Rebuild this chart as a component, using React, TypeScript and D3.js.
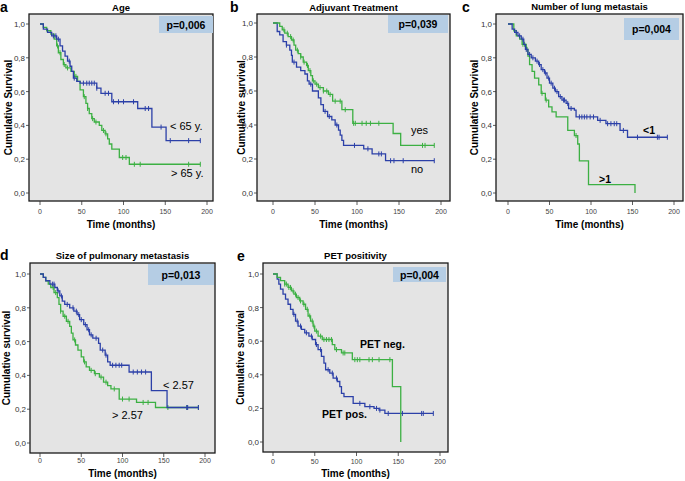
import React from "react";
import * as d3 from "d3";

type Step = [number, number];

// ---- data ----
const xTicks = [0, 50, 100, 150, 200];
const yTicks = [0, 0.2, 0.4, 0.6, 0.8, 1.0];

// a: Age
const ageUnder65: Step[] = [[0, 1], [4, 0.97], [9, 0.95], [14, 0.93], [20, 0.91], [24, 0.87], [27, 0.84], [30, 0.81], [33, 0.78], [36, 0.75], [38, 0.72], [40, 0.68], [44, 0.66], [48, 0.65], [68, 0.62], [73, 0.59], [86, 0.54], [117, 0.5], [134, 0.39], [151, 0.31]];
const ageUnder65Censor = [16, 19, 22, 35, 41, 52, 56, 59, 62, 65, 68, 78, 82, 88, 94, 100, 112, 126, 130, 145, 156, 178, 192];
const ageOver65: Step[] = [[0, 1], [4, 0.98], [8, 0.96], [13, 0.94], [17, 0.91], [20, 0.87], [22, 0.83], [25, 0.79], [28, 0.76], [31, 0.74], [37, 0.72], [41, 0.69], [45, 0.66], [48, 0.61], [52, 0.57], [55, 0.53], [57, 0.5], [59, 0.47], [62, 0.44], [65, 0.42], [71, 0.4], [74, 0.37], [78, 0.35], [81, 0.32], [83, 0.29], [86, 0.26], [95, 0.21], [107, 0.17]];
const ageOver65Censor = [21, 24, 29, 33, 43, 53, 57, 63, 67, 76, 79, 99, 103, 113, 120, 178, 192];

// b: Adjuvant treatment
const adjYes: Step[] = [[0, 1], [8, 0.98], [11, 0.96], [14, 0.94], [18, 0.92], [22, 0.9], [25, 0.87], [27, 0.84], [30, 0.82], [33, 0.8], [36, 0.77], [40, 0.75], [42, 0.72], [45, 0.69], [47, 0.66], [50, 0.64], [54, 0.62], [60, 0.6], [66, 0.58], [71, 0.54], [82, 0.49], [95, 0.41], [143, 0.35], [152, 0.28]];
const adjYesCensor = [13, 17, 21, 24, 29, 33, 37, 41, 44, 48, 52, 56, 60, 64, 68, 74, 80, 86, 96, 98, 106, 111, 116, 126, 178, 181, 192];
const adjNo: Step[] = [[0, 1], [5, 0.95], [8, 0.93], [12, 0.89], [16, 0.87], [20, 0.84], [22, 0.81], [23, 0.77], [28, 0.74], [33, 0.72], [38, 0.7], [41, 0.66], [43, 0.64], [47, 0.6], [54, 0.56], [57, 0.52], [60, 0.48], [65, 0.45], [70, 0.43], [74, 0.4], [78, 0.37], [80, 0.34], [82, 0.31], [84, 0.28], [108, 0.26], [118, 0.23], [134, 0.19]];
const adjNoCensor = [16, 25, 45, 62, 67, 76, 97, 113, 126, 129, 140, 144, 155, 192];

// c: Number of lung metastasis
const metLess1: Step[] = [[0, 1], [5, 0.97], [8, 0.95], [12, 0.93], [16, 0.91], [19, 0.88], [21, 0.85], [24, 0.82], [28, 0.8], [33, 0.78], [37, 0.76], [40, 0.73], [44, 0.71], [47, 0.68], [50, 0.65], [54, 0.62], [57, 0.6], [61, 0.57], [65, 0.55], [70, 0.53], [73, 0.5], [80, 0.49], [82, 0.45], [108, 0.43], [118, 0.41], [135, 0.37], [144, 0.33]];
const metLess1Censor = [10, 14, 18, 22, 26, 30, 35, 38, 42, 45, 49, 52, 56, 59, 63, 67, 68, 72, 76, 86, 89, 92, 95, 99, 103, 111, 120, 124, 128, 131, 139, 156, 180, 182, 192];
const metMore1: Step[] = [[0, 1], [7, 0.96], [10, 0.93], [14, 0.91], [17, 0.88], [22, 0.85], [24, 0.81], [26, 0.76], [29, 0.72], [32, 0.68], [37, 0.64], [40, 0.59], [45, 0.55], [49, 0.51], [53, 0.48], [58, 0.45], [72, 0.37], [80, 0.34], [84, 0.29], [86, 0.19], [97, 0.05], [153, 0]];
const metMore1Censor = [18, 20, 23, 41, 46, 82];

// d: Size of pulmonary metastasis
const sizeUnder: Step[] = [[0, 1], [4, 0.98], [7, 0.96], [12, 0.94], [18, 0.92], [21, 0.9], [24, 0.87], [27, 0.84], [30, 0.82], [36, 0.8], [41, 0.78], [45, 0.76], [48, 0.73], [53, 0.7], [57, 0.67], [60, 0.64], [64, 0.62], [71, 0.59], [73, 0.55], [79, 0.52], [82, 0.48], [85, 0.46], [108, 0.42], [135, 0.31], [154, 0.21]];
const sizeUnderCensor = [15, 17, 22, 26, 33, 40, 44, 47, 50, 55, 59, 62, 68, 76, 80, 88, 92, 96, 99, 113, 118, 123, 128, 178, 179, 192];
const sizeOver: Step[] = [[0, 1], [4, 0.98], [7, 0.96], [10, 0.94], [13, 0.92], [17, 0.89], [21, 0.86], [23, 0.82], [25, 0.78], [28, 0.75], [32, 0.72], [36, 0.69], [38, 0.65], [40, 0.61], [43, 0.58], [46, 0.55], [50, 0.51], [53, 0.48], [56, 0.45], [60, 0.43], [66, 0.41], [72, 0.39], [77, 0.36], [82, 0.34], [86, 0.32], [96, 0.26], [117, 0.24], [140, 0.21]];
const sizeOverCensor = [16, 19, 25, 30, 34, 42, 54, 62, 67, 74, 80, 90, 100, 108, 125, 131, 155, 178, 192];

// e: PET positivity
const petNeg: Step[] = [[0, 1], [5, 0.98], [9, 0.96], [14, 0.94], [18, 0.92], [22, 0.9], [25, 0.88], [28, 0.86], [32, 0.84], [36, 0.82], [39, 0.79], [42, 0.75], [45, 0.72], [48, 0.69], [50, 0.66], [54, 0.63], [59, 0.61], [71, 0.58], [74, 0.55], [82, 0.53], [95, 0.49], [143, 0.33], [153, 0]];
const petNegCensor = [14, 16, 19, 21, 24, 27, 30, 33, 37, 41, 44, 47, 49, 52, 57, 61, 64, 67, 70, 76, 84, 86, 98, 101, 104, 115, 119, 127, 140];
const petPos: Step[] = [[0, 1], [5, 0.97], [7, 0.94], [9, 0.91], [12, 0.88], [15, 0.85], [18, 0.82], [21, 0.79], [24, 0.76], [27, 0.72], [30, 0.69], [34, 0.67], [38, 0.65], [43, 0.63], [47, 0.61], [51, 0.58], [54, 0.55], [58, 0.51], [61, 0.47], [63, 0.43], [68, 0.41], [72, 0.38], [77, 0.36], [80, 0.33], [82, 0.29], [85, 0.27], [96, 0.23], [110, 0.21], [121, 0.2], [127, 0.19], [134, 0.17]];
const petPosCensor = [25, 29, 33, 40, 46, 52, 57, 66, 71, 76, 104, 116, 124, 128, 138, 155, 178, 180, 192];

const BLUE = "#2c40a8";
const GREEN = "#3cb043";
const FONT = "'Liberation Sans', Arial, sans-serif";

interface Curve { steps: Step[]; censor: number[]; end: number; color: string }
interface Label { text: string; x: number; y: number; bold?: boolean }
interface Panel {
  letter: string; title: string; yTitle: string; p: string;
  frame: [number, number, number, number]; // left, top, right, bottom
  xr: [number, number]; yr: [number, number];
  pBox: [number, number, number, number];
  letterPos: [number, number]; titleY: number; yTitleX: number; xTitleY: number; xTickY: number;
  curves: Curve[]; labels: Label[];
}

const panels: Panel[] = [
  {
    letter: "a", title: "Age", yTitle: "Cumulative Survival", p: "p=0,006",
    frame: [29, 14, 213, 201], xr: [40, 207], yr: [193, 24], pBox: [159, 16, 213, 33],
    letterPos: [0, 11.5], titleY: 11, yTitleX: 11.5, xTitleY: 228, xTickY: 214,
    curves: [
      { steps: ageOver65, censor: ageOver65Censor, end: 192, color: GREEN },
      { steps: ageUnder65, censor: ageUnder65Censor, end: 192, color: BLUE },
    ],
    labels: [{ text: "< 65 y.", x: 170, y: 130 }, { text: "> 65 y.", x: 171, y: 177 }],
  },
  {
    letter: "b", title: "Adjuvant Treatment", yTitle: "Cumulative survival", p: "p=0,039",
    frame: [257, 14, 450, 201], xr: [273, 441], yr: [193, 23], pBox: [388, 15, 448, 33],
    letterPos: [230, 11.5], titleY: 11, yTitleX: 245, xTitleY: 228, xTickY: 214,
    curves: [
      { steps: adjNo, censor: adjNoCensor, end: 192, color: BLUE },
      { steps: adjYes, censor: adjYesCensor, end: 192, color: GREEN },
    ],
    labels: [{ text: "yes", x: 411, y: 134 }, { text: "no", x: 411, y: 173 }],
  },
  {
    letter: "c", title: "Number of lung metastais", yTitle: "Cumulative Survival", p: "p=0,004",
    frame: [496, 14, 683, 201], xr: [508, 674], yr: [193, 24], pBox: [624, 18, 679, 40],
    letterPos: [462, 11.5], titleY: 10, yTitleX: 478, xTitleY: 228, xTickY: 214,
    curves: [
      { steps: metMore1, censor: metMore1Censor, end: 153, color: GREEN },
      { steps: metLess1, censor: metLess1Censor, end: 192, color: BLUE },
    ],
    labels: [{ text: "<1", x: 643, y: 134, bold: true }, { text: ">1", x: 599, y: 183, bold: true }],
  },
  {
    letter: "d", title: "Size of pulmonary metastasis", yTitle: "Cumulative survival", p: "p=0,013",
    frame: [30, 263, 215, 453], xr: [40, 205], yr: [443, 274], pBox: [148, 264, 214, 285],
    letterPos: [0, 260], titleY: 259, yTitleX: 10, xTitleY: 477, xTickY: 463,
    curves: [
      { steps: sizeOver, censor: sizeOverCensor, end: 192, color: GREEN },
      { steps: sizeUnder, censor: sizeUnderCensor, end: 192, color: BLUE },
    ],
    labels: [{ text: "< 2.57", x: 163, y: 389 }, { text: "> 2.57", x: 112, y: 419 }],
  },
  {
    letter: "e", title: "PET positivity", yTitle: "Cumulative survival", p: "p=0,004",
    frame: [263, 263, 448, 452], xr: [273, 440], yr: [442, 274], pBox: [393, 267, 446, 282],
    letterPos: [237, 261], titleY: 259, yTitleX: 244, xTitleY: 477, xTickY: 464,
    curves: [
      { steps: petPos, censor: petPosCensor, end: 192, color: BLUE },
      { steps: petNeg, censor: petNegCensor, end: 153, color: GREEN },
    ],
    labels: [{ text: "PET neg.", x: 360, y: 348, bold: true }, { text: "PET pos.", x: 322, y: 418, bold: true }],
  },
];

const fmt = (v: number) => d3.format(".1f")(v).replace(".", ",");

function survAt(steps: Step[], t: number) {
  let s = 1;
  for (const [st, sv] of steps) if (st <= t) s = sv;
  return s;
}

function KMPanel({ pn }: { pn: Panel }) {
  const x = d3.scaleLinear().domain([0, 200]).range(pn.xr);
  const y = d3.scaleLinear().domain([0, 1]).range(pn.yr);
  const line = d3.line<Step>().x((d) => x(d[0])).y((d) => y(d[1])).curve(d3.curveStepAfter);
  const [l, t, r, b] = pn.frame;
  return (
    <g fontFamily={FONT}>
      <rect x={l} y={t} width={r - l} height={b - t} fill="#e4e4e4" stroke="#1a1a1a" strokeWidth={1.3} />
      <text x={pn.letterPos[0]} y={pn.letterPos[1]} fontSize={14} fontWeight="bold">{pn.letter}</text>
      <text x={(l + r) / 2} y={pn.titleY} fontSize={9.5} fontWeight="bold" textAnchor="middle">{pn.title}</text>
      <rect x={pn.pBox[0]} y={pn.pBox[1]} width={pn.pBox[2] - pn.pBox[0]} height={pn.pBox[3] - pn.pBox[1]} fill="#b5cde4" />
      <text x={(pn.pBox[0] + pn.pBox[2]) / 2} y={(pn.pBox[1] + pn.pBox[3]) / 2 + 4} fontSize={10.5} fontWeight="bold" textAnchor="middle">{pn.p}</text>
      {yTicks.map((v) => (
        <g key={"y" + v}>
          <line x1={l - 3} x2={l} y1={y(v)} y2={y(v)} stroke="#333" strokeWidth={0.8} />
          <text x={l - 4} y={y(v) + 3} fontSize={8} textAnchor="end" fill="#333">{fmt(v)}</text>
        </g>
      ))}
      {xTicks.map((v) => (
        <g key={"x" + v}>
          <line x1={x(v)} x2={x(v)} y1={b} y2={b + 4} stroke="#333" strokeWidth={0.8} />
          <text x={x(v)} y={pn.xTickY} fontSize={7} textAnchor="middle" fill="#444">{v}</text>
        </g>
      ))}
      <text transform={`translate(${pn.yTitleX},${(t + b) / 2}) rotate(-90)`} fontSize={10} fontWeight="bold" textAnchor="middle">{pn.yTitle}</text>
      <text x={(l + r) / 2} y={pn.xTitleY} fontSize={10} fontWeight="bold" textAnchor="middle">Time (months)</text>
      {pn.curves.map((c, i) => {
        const last = c.steps[c.steps.length - 1];
        const pts: Step[] = [...c.steps, [c.end, last[1]]];
        return (
          <g key={i}>
            <path d={line(pts) || ""} fill="none" stroke={c.color} strokeWidth={1.3} />
            {c.censor.map((ct, j) => (
              <line key={j} x1={x(ct)} x2={x(ct)} y1={y(survAt(c.steps, ct)) - 2.5} y2={y(survAt(c.steps, ct)) + 2.5} stroke={c.color} strokeWidth={1} />
            ))}
          </g>
        );
      })}
      {pn.labels.map((lb) => (
        <text key={lb.text} x={lb.x} y={lb.y} fontSize={lb.bold ? 10.5 : 11} fontWeight={lb.bold ? "bold" : "normal"}>{lb.text}</text>
      ))}
    </g>
  );
}

export default function App() {
  return (
    <svg width={685} height={481} style={{ position: "absolute", left: 0, top: 0, background: "#fff" }}>
      {panels.map((pn) => <KMPanel key={pn.letter} pn={pn} />)}
    </svg>
  );
}
